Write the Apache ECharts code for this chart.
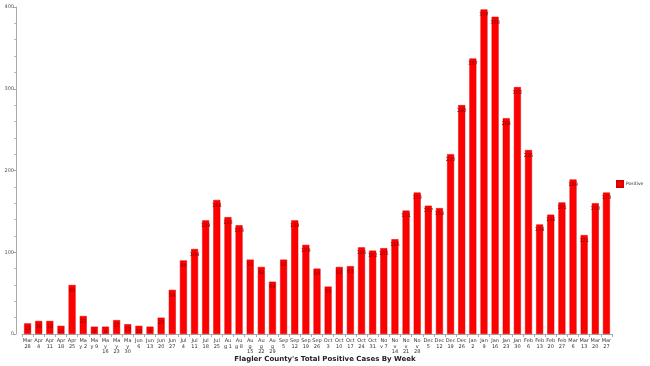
<!DOCTYPE html>
<html>
<head>
<meta charset="utf-8">
<script src="https://cdn.jsdelivr.net/npm/echarts@6/dist/echarts.min.js"></script>
<style>html,body{margin:0;padding:0;background:#fff}#c{width:650px;height:366px}</style>
</head>
<body>
<div id="c"></div>
<script>
const categories = ["Mar\n28","Apr\n4","Apr\n11","Apr\n18","Apr\n25","Ma\ny 2","Ma\ny 9","Ma\ny\n16","Ma\ny\n23","Ma\ny\n30","Jun\n6","Jun\n13","Jun\n20","Jun\n27","Jul\n4","Jul\n11","Jul\n18","Jul\n25","Au\ng 1","Au\ng 8","Au\ng\n15","Au\ng\n22","Au\ng\n29","Sep\n5","Sep\n12","Sep\n19","Sep\n26","Oct\n3","Oct\n10","Oct\n17","Oct\n24","Oct\n31","No\nv 7","No\nv\n14","No\nv\n21","No\nv\n28","Dec\n5","Dec\n12","Dec\n19","Dec\n26","Jan\n2","Jan\n9","Jan\n16","Jan\n23","Jan\n30","Feb\n6","Feb\n13","Feb\n20","Feb\n27","Mar\n6","Mar\n13","Mar\n20","Mar\n27"];
const positive = [13,16,16,10,60,22,9,9,17,12,10,9,20,54,90,104,139,164,143,133,91,82,64,91,139,109,80,58,82,83,106,102,105,116,151,173,157,154,220,280,337,397,388,264,302,225,134,146,161,189,121,160,173];
const yTicks = {min:0, max:400, interval:100};
const seriesName = "Positive";
const titleText = "Flagler County's Total Positive Cases By Week";

const chart = echarts.init(document.getElementById('c'));
chart.setOption({
  animation:false,
  textStyle:{fontFamily:'DejaVu Sans'},
  title:{text:titleText,left:'center',top:356,padding:0,textStyle:{fontSize:7,fontWeight:'bold',color:'#222',fontFamily:'DejaVu Sans'}},
  legend:{data:[seriesName],left:616,top:180,itemWidth:6,itemHeight:6,itemGap:4,icon:'rect',padding:0,textStyle:{fontSize:4.5,color:'#333',padding:[0,0,0,-2]}},
  grid:{left:22,right:38,top:7,bottom:32,containLabel:false},
  xAxis:{type:'category',data:categories,
    axisLine:{lineStyle:{color:'#aaa'}},
    axisTick:{show:true,alignWithLabel:false,length:3,lineStyle:{color:'#aaa'}},
    axisLabel:{interval:0,fontSize:5,lineHeight:5.5,color:'#333',margin:4}},
  yAxis:{type:'value',min:yTicks.min,max:yTicks.max,interval:yTicks.interval,offset:6,
    axisLine:{show:true,lineStyle:{color:'#aaa'}},
    axisTick:{show:true,length:3,lineStyle:{color:'#aaa'}},
    minorTick:{show:true,splitNumber:5,length:2,lineStyle:{color:'#bbb'}},
    splitLine:{show:false},
    axisLabel:{fontSize:5,color:'#555',margin:2}},
  series:[{name:seriesName,type:'bar',data:positive,barWidth:7,
    itemStyle:{color:'#ff0000',borderColor:'#d40000',borderWidth:0.5},
    label:{show:true,position:'insideTop',fontSize:5,color:'#8a0000',distance:3}}]
});
</script>
</body>
</html>
